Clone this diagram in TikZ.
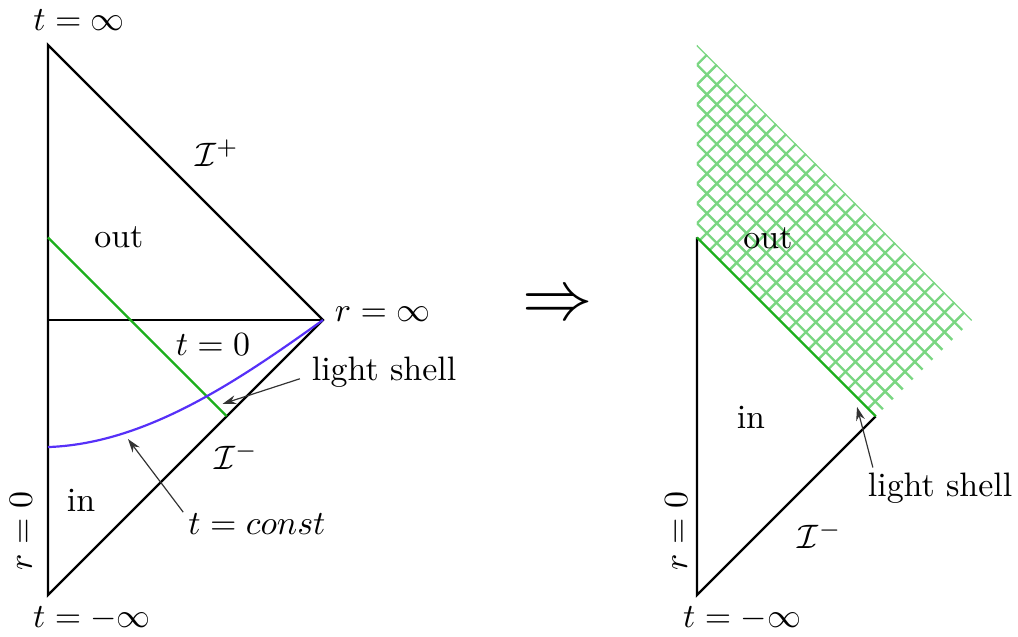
\documentclass[tikz,border=0pt]{standalone}
\usepackage{amsmath}
\usepackage{amssymb}
\usetikzlibrary{arrows.meta, calc}
\definecolor{shellgreen}{HTML}{1CAF1C}
\definecolor{gridgreen}{HTML}{7AD682}
\definecolor{slicepurple}{HTML}{5630F8}

\tikzset{
  bound/.style={black, line width=0.7pt},
  shell/.style={shellgreen, line width=0.65pt},
  slice/.style={slicepurple, line width=0.65pt},
  pointer/.style={-{Stealth[length=4pt,width=2.6pt]}, line width=0.35pt, black!80},
  gridline/.style={gridgreen, line width=0.7pt}
}

\begin{document}
\begin{tikzpicture}[x=2.85cm, y=2.85cm]
            \useasboundingbox (-0.1745,-1.1527) rectangle (3.5273,1.1636);
            \draw[bound] (0,-1) -- (0,1) -- (1,0) -- cycle;
            \draw[bound] (0,0) -- (1,0);
            \draw[shell] (0,0.3) -- (0.65,-0.35);
            \draw[slice] (0,-0.462) .. controls (0.35,-0.45) and (0.68,-0.23) .. (1,0);
            \coordinate (shelltipL) at (0.635,-0.305);
            \coordinate (slicetip) at (0.291,-0.433);
            \node (tinfL) at (0.113,1.091) {$t=\infty$};
            \node (scriplus) at (0.615,0.607) {$\mathcal{I}^+$};
            \node (outL) at (0.258,0.302) {out};
            \node[right] (rinf) at (1,0.02) {$r=\infty$};
            \node (tzero) at (0.6,-0.09) {$t=0$};
            \node (shellL) at (1.222,-0.189) {light shell};
            \node (scriminusL) at (0.684,-0.494) {$\mathcal{I}^-$};
            \node (inL) at (0.12,-0.655) {in};
            \node[rotate=90] (rzeroL) at (-0.098,-0.767) {$r=0$};
            \node (tminfL) at (0.16,-1.087) {$t=-\infty$};
            \node (tconst) at (0.76,-0.742) {$t=const$};
            \draw[pointer] ([yshift=-2pt]shellL.west) -- (shelltipL);
            \draw[pointer] ([xshift=2pt,yshift=3.5pt]tconst.west) -- (slicetip);
            \node[font=\fontsize{20}{24}\selectfont] (implies) at (1.855,0.047) {$\Rightarrow$};
            \begin{scope}[shift={(2.36,0)}]
                \begin{scope}
                    \clip (0,1) -- (0,0.3) -- (0.65,-0.35) -- (1,0) -- cycle;
                    \foreach \k in {0,...,27} {
                        \draw[gridline] (-0.1,{1-\k*0.072-0.1}) -- (1.1,{1-\k*0.072+1.1});
                        \draw[gridline] (-0.1,{1-\k*0.072+0.1}) -- (1.1,{1-\k*0.072-1.1});
                    }
                \end{scope}
                \draw[bound] (0,0.3) -- (0,-1) -- (0.65,-0.35);
                \draw[shell] (0,0.3) -- (0.65,-0.35);
                \coordinate (shelltipR) at (0.582,-0.316);
                \node (outR) at (0.258,0.298) {out};
                \node (inR) at (0.196,-0.353) {in};
                \node (shellR) at (0.884,-0.611) {light shell};
                \node (scriminusR) at (0.447,-0.782) {$\mathcal{I}^-$};
                \node[rotate=90] (rzeroR) at (-0.076,-0.767) {$r=0$};
                \node (tminfR) at (0.164,-1.084) {$t=-\infty$};
                \draw[pointer] ([xshift=5pt,yshift=-2pt]shellR.north west) -- (shelltipR);
            \end{scope}
        \end{tikzpicture}
\end{document}
